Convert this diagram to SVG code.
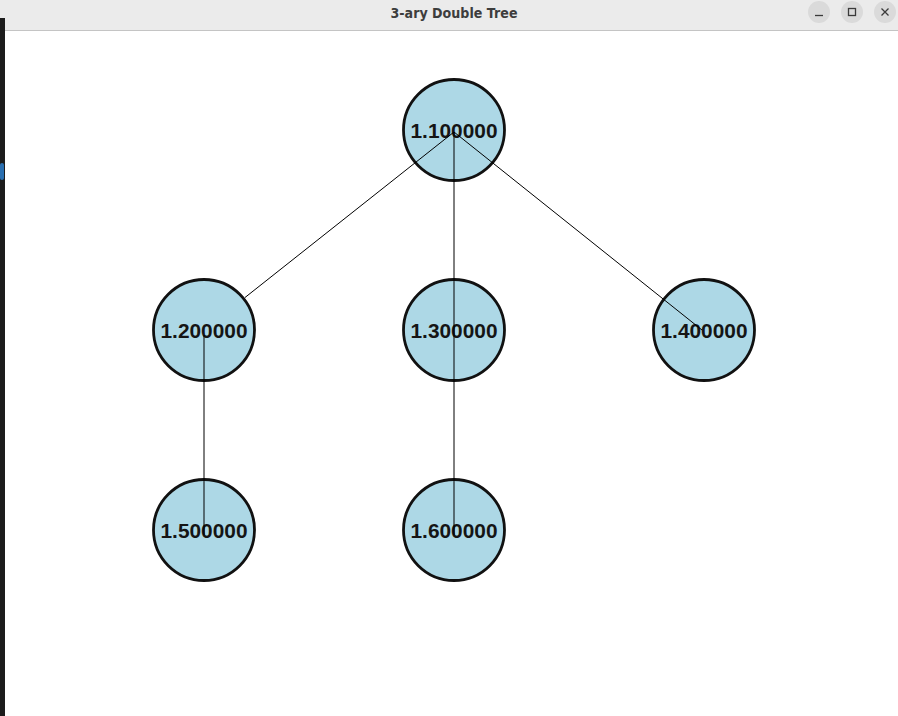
<svg xmlns="http://www.w3.org/2000/svg" width="898" height="716" viewBox="0 0 898 716">
  <style>
    .node circle { fill: #add8e6; stroke: #111; stroke-width: 2.8; }
    .node text { font-family: "Liberation Sans", Arial, sans-serif; font-weight: bold; font-size: 20px; fill: #151515; text-anchor: middle; }
    .edge { stroke: #000; stroke-width: 1; fill: none; }
    .title { font-family: "DejaVu Sans", "Noto Sans", sans-serif; font-weight: bold; font-size: 14px; fill: #3d3d3d; text-anchor: middle; }
    .btn { fill: #dadada; }
    .glyph { stroke: #3a3a3a; stroke-width: 1.3; fill: none; }
  </style>

  <!-- window background -->
  <rect x="0" y="0" width="898" height="716" fill="#ffffff"/>

  <!-- title bar -->
  <g id="titlebar">
    <rect x="0" y="0" width="898" height="30" fill="#ebebeb"/>
    <line x1="0" y1="30.5" x2="898" y2="30.5" stroke="#c4c4c4" stroke-width="1"/>
    <text class="title" x="454" y="18" textLength="127" lengthAdjust="spacingAndGlyphs">3-ary Double Tree</text>
    <circle class="btn" cx="819" cy="12" r="11"/>
    <line class="glyph" x1="815" y1="15.5" x2="823" y2="15.5"/>
    <circle class="btn" cx="852" cy="12" r="11"/>
    <rect class="glyph" x="848.5" y="8.5" width="7" height="7"/>
    <circle class="btn" cx="885" cy="12" r="11"/>
    <path class="glyph" d="M881.5 8.5 L888.5 15.5 M888.5 8.5 L881.5 15.5"/>
  </g>

  <!-- neighbouring window edge on the left -->
  <rect x="0" y="18" width="5" height="698" fill="#1c1c1c"/>
  <rect x="0" y="163" width="4" height="17" rx="2" fill="#2a6fb0"/>

  <!-- nodes -->
  <g id="node-1-1" class="node">
    <circle cx="454" cy="130" r="50.5"/>
    <text x="454" y="138" textLength="87" lengthAdjust="spacingAndGlyphs">1.100000</text>
  </g>
  <g id="node-1-2" class="node">
    <circle cx="204" cy="330" r="50.5"/>
    <text x="204" y="338" textLength="87" lengthAdjust="spacingAndGlyphs">1.200000</text>
  </g>
  <g id="node-1-3" class="node">
    <circle cx="454" cy="330" r="50.5"/>
    <text x="454" y="338" textLength="87" lengthAdjust="spacingAndGlyphs">1.300000</text>
  </g>
  <g id="node-1-4" class="node">
    <circle cx="704" cy="330" r="50.5"/>
    <text x="704" y="338" textLength="87" lengthAdjust="spacingAndGlyphs">1.400000</text>
  </g>
  <g id="node-1-5" class="node">
    <circle cx="204" cy="530" r="50.5"/>
    <text x="204" y="538" textLength="87" lengthAdjust="spacingAndGlyphs">1.500000</text>
  </g>
  <g id="node-1-6" class="node">
    <circle cx="454" cy="530" r="50.5"/>
    <text x="454" y="538" textLength="87" lengthAdjust="spacingAndGlyphs">1.600000</text>
  </g>

  <!-- connectors -->
  <g id="edges">
    <line class="edge" x1="454" y1="132" x2="245" y2="297.5"/>
    <line class="edge" x1="454" y1="132" x2="454" y2="335"/>
    <line class="edge" x1="454" y1="132" x2="702" y2="330"/>
    <line class="edge" x1="204" y1="335" x2="204" y2="535"/>
    <line class="edge" x1="454" y1="335" x2="454" y2="535"/>
  </g>
</svg>
